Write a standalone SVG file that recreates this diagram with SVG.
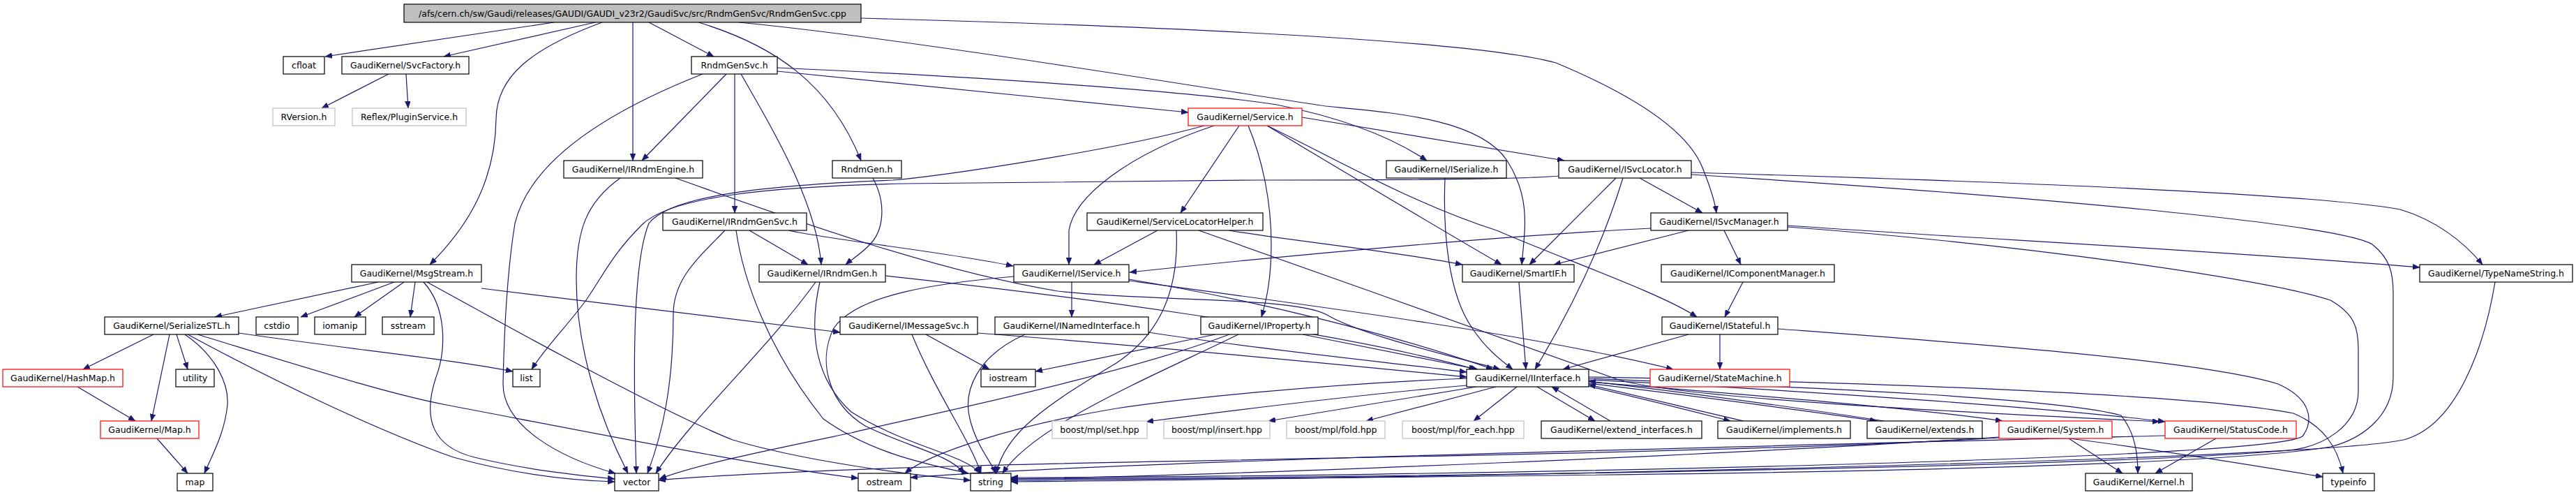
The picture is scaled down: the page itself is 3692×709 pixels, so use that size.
<svg xmlns="http://www.w3.org/2000/svg" width="3692" height="709" viewBox="0 0 3692 709">
<style>
.n rect{fill:#ffffff;stroke:#000000;stroke-width:1.2}
.r rect{stroke:#ff0000}
.g rect{stroke:#bfbfbf}
.m rect{fill:#bfbfbf}
text{font-family:"DejaVu Sans","Liberation Sans",sans-serif;font-size:12.5px;text-anchor:middle;fill:#000000}
#edges path{fill:none;stroke:#191970;stroke-width:1.2;marker-end:url(#ah)}
</style>
<defs>
<marker id="ah" markerUnits="userSpaceOnUse" markerWidth="11" markerHeight="8" refX="10" refY="4" orient="auto">
<path d="M0,0 L10,4 L0,8 z" fill="#191970" stroke="#191970" stroke-width="0.5"/>
</marker>
</defs>
<rect width="3692" height="709" fill="#ffffff"/>
<g id="edges">
<path d="M794,32 L466,81"/>
<path d="M853,32 L636,81"/>
<path d="M863,32 C760,70 712,110 711,170 C710,270 660,335 616,379"/>
<path d="M907,32 L907,230"/>
<path d="M930,32 L1023,81"/>
<path d="M1001,32 C1110,65 1190,120 1234,230"/>
<path d="M1059,32 C1300,55 1750,130 1900,152 C2000,162 2120,170 2160,230 C2195,285 2185,330 2181,379"/>
<path d="M1234,26 C1600,36 2100,55 2230,90 C2350,140 2420,190 2440,240 C2452,270 2458,290 2460,305"/>
<path d="M557,106 L461,155"/>
<path d="M582,106 L585,155"/>
<path d="M1041,106 L920,230"/>
<path d="M1053,106 L1053,305"/>
<path d="M1062,106 C1110,190 1170,290 1177,379"/>
<path d="M1007,106 C870,160 760,230 738,320 C725,400 722,500 721,550 C721,610 800,655 882,678"/>
<path d="M1114,102 L1703,161"/>
<path d="M1114,97 C1400,110 1700,130 1830,150 C1930,170 2000,200 2045,230"/>
<path d="M889,255 C840,290 826,330 826,400 C826,500 860,600 900,678"/>
<path d="M968,255 C1150,320 1350,390 1516,417 C1650,432 1850,425 1900,450 C1950,480 2080,510 2150,529"/>
<path d="M1251,255 C1270,290 1268,330 1245,352 C1232,365 1220,372 1212,379"/>
<path d="M1074,330 L1158,379"/>
<path d="M1039,330 C1000,370 965,400 965,450 C965,550 950,620 928,678"/>
<path d="M1055,330 C1065,400 1100,500 1180,600 C1250,650 1330,665 1388,678"/>
<path d="M1130,330 C1200,345 1350,360 1452,381"/>
<path d="M1726,180 C1600,215 1350,252 1280,258 C1100,265 960,280 930,320 C905,380 908,550 912,678"/>
<path d="M2234,252 C2180,257 2000,258 1800,258 L1300,263 C1100,267 960,282 920,322 C880,362 870,385 840,430 C810,470 780,500 762,529"/>
<path d="M1740,180 C1620,220 1540,280 1532,330 L1532,379"/>
<path d="M1776,180 L1692,305"/>
<path d="M1789,180 C1810,230 1822,290 1822,350 C1822,400 1815,430 1808,454"/>
<path d="M1816,180 C1950,260 2050,320 2152,379"/>
<path d="M1816,180 C1900,220 2020,290 2145,330 C2250,375 2380,420 2432,454"/>
<path d="M1866,168 L2242,230"/>
<path d="M1659,330 L1568,379"/>
<path d="M1686,330 C1690,420 1660,480 1600,520 C1500,580 1440,620 1428,678"/>
<path d="M1761,330 C1850,345 2000,360 2096,379"/>
<path d="M1718,330 C1900,395 2200,500 2317,543 C2400,570 2800,590 3095,604"/>
<path d="M2326,255 C2300,340 2260,430 2200,529"/>
<path d="M2316,255 L2192,379"/>
<path d="M2350,255 L2440,305"/>
<path d="M2424,247 C2800,258 3300,275 3440,300 C3490,315 3530,345 3558,379"/>
<path d="M2424,250 C2900,280 3350,320 3400,350 C3425,370 3430,390 3430,420 L3430,540 C3430,600 3380,630 3340,640 C3100,680 2000,683 1449,688"/>
<path d="M2471,330 L2495,379"/>
<path d="M2420,330 L2227,379"/>
<path d="M2366,327 C2200,335 1900,360 1619,390"/>
<path d="M2562,323 C2800,340 3200,360 3468,383"/>
<path d="M2562,325 C2900,350 3250,400 3340,430 C3375,450 3380,470 3380,500 L3380,560 C3380,610 3330,640 3280,645 C3000,670 2000,684 1449,686"/>
<path d="M3576,404 C3560,500 3520,610 3445,630 C3300,660 2000,686 1449,690"/>
<path d="M2498,404 L2472,454"/>
<path d="M2420,479 L2240,529"/>
<path d="M2465,479 L2465,529"/>
<path d="M2548,471 C2800,490 3150,515 3265,550 C3310,570 3318,600 3300,625 C3250,660 2000,683 1449,684"/>
<path d="M2177,404 L2187,529"/>
<path d="M1536,404 L1536,454"/>
<path d="M1453,396 C1350,405 1230,420 1195,470 C1170,520 1190,580 1240,610 C1300,640 1360,650 1382,678"/>
<path d="M1618,400 C1800,430 2000,480 2140,529"/>
<path d="M1618,402 C1900,440 2200,480 2398,529"/>
<path d="M1469,479 C1400,510 1380,560 1390,600 C1400,640 1420,660 1427,678"/>
<path d="M1646,476 C1800,500 2000,520 2102,533"/>
<path d="M1327,479 L1418,529"/>
<path d="M1307,479 C1340,560 1390,630 1406,678"/>
<path d="M1401,477 C1700,500 1950,525 2102,540"/>
<path d="M1742,479 L1484,532"/>
<path d="M1762,479 C1600,540 1300,600 1220,620 C1100,645 1000,665 945,686"/>
<path d="M1775,479 C1650,540 1480,610 1437,678"/>
<path d="M1867,479 L2118,529"/>
<path d="M542,404 L308,454"/>
<path d="M565,404 L431,454"/>
<path d="M579,404 L508,454"/>
<path d="M595,404 L588,454"/>
<path d="M607,404 C640,440 640,500 625,540 C605,600 620,640 680,655 C750,672 820,680 881,686"/>
<path d="M612,404 C750,480 950,590 1050,630 C1150,660 1300,680 1391,688"/>
<path d="M690,413 L1204,476"/>
<path d="M220,479 L119,529"/>
<path d="M243,479 L217,603"/>
<path d="M253,479 L269,529"/>
<path d="M265,479 C310,510 328,550 326,580 C322,620 305,650 293,678"/>
<path d="M269,479 C400,550 550,620 650,655 C740,680 820,688 881,690"/>
<path d="M283,479 C450,530 560,565 640,580 C850,620 1100,670 1230,685"/>
<path d="M342,477 C500,500 650,515 735,532"/>
<path d="M111,554 L194,603"/>
<path d="M225,628 L269,678"/>
<path d="M1169,404 C1100,500 990,600 940,678"/>
<path d="M1175,404 C1160,470 1165,540 1220,590 C1300,640 1380,650 1405,678"/>
<path d="M1269,395 C1500,420 1900,470 2115,529"/>
<path d="M2071,255 C2068,330 2075,420 2110,470 C2130,500 2150,515 2168,529"/>
<path d="M2102,542 C1900,550 1700,570 1600,585 C1450,610 1330,650 1297,678"/>
<path d="M2102,552 C1950,565 1750,590 1643,604"/>
<path d="M2116,554 L1818,603"/>
<path d="M2144,554 L1958,603"/>
<path d="M2174,554 L2112,603"/>
<path d="M2203,554 L2286,603"/>
<path d="M2308,603 L2224,554"/>
<path d="M2276,553 C2350,570 2430,590 2480,603"/>
<path d="M2499,603 C2420,585 2340,565 2277,551"/>
<path d="M2276,549 C2450,570 2600,590 2690,603"/>
<path d="M2700,603 C2550,580 2400,560 2277,546"/>
<path d="M2277,547 C2500,565 2750,585 2870,603"/>
<path d="M2277,544 C2600,560 2950,585 3103,604"/>
<path d="M2277,542 C2600,555 2950,570 3040,595 C3060,620 3064,650 3064,678"/>
<path d="M2277,540 C2700,548 3150,565 3287,592 C3330,610 3350,640 3358,678"/>
<path d="M2965,628 L3042,678"/>
<path d="M2966,628 C3100,645 3250,670 3329,683"/>
<path d="M2865,626 C2500,650 1800,680 1449,686"/>
<path d="M2866,627 C2500,650 1600,660 1400,667 C1200,672 1000,682 944,688"/>
<path d="M3176,628 L3089,678"/>
<path d="M3103,624 C2500,640 1600,660 1305,684"/>
</g>
<g id="main" class="n m"><rect x="579" y="6" width="655" height="26"/><text x="906.5" y="23.5">/afs/cern.ch/sw/Gaudi/releases/GAUDI/GAUDI_v23r2/GaudiSvc/src/RndmGenSvc/RndmGenSvc.cpp</text></g>
<g id="cfloat" class="n"><rect x="406" y="81" width="59" height="25"/><text x="435.5" y="98">cfloat</text></g>
<g id="SvcFactory" class="n"><rect x="490" y="81" width="182" height="25"/><text x="581" y="98">GaudiKernel/SvcFactory.h</text></g>
<g id="RndmGenSvc_h" class="n"><rect x="991" y="81" width="123" height="25"/><text x="1052.5" y="98">RndmGenSvc.h</text></g>
<g id="RVersion" class="n g"><rect x="391" y="155" width="89" height="25"/><text x="435.5" y="172">RVersion.h</text></g>
<g id="ReflexPluginService" class="n g"><rect x="505" y="155" width="163" height="25"/><text x="586.5" y="172">Reflex/PluginService.h</text></g>
<g id="Service_h" class="n r"><rect x="1703" y="155" width="163" height="25"/><text x="1784.5" y="172">GaudiKernel/Service.h</text></g>
<g id="IRndmEngine" class="n"><rect x="808" y="230" width="199" height="25"/><text x="907.5" y="247">GaudiKernel/IRndmEngine.h</text></g>
<g id="RndmGen_h" class="n"><rect x="1193" y="230" width="99" height="25"/><text x="1242.5" y="247">RndmGen.h</text></g>
<g id="ISerialize" class="n"><rect x="1987" y="230" width="172" height="25"/><text x="2073" y="247">GaudiKernel/ISerialize.h</text></g>
<g id="ISvcLocator" class="n"><rect x="2234" y="230" width="190" height="25"/><text x="2329" y="247">GaudiKernel/ISvcLocator.h</text></g>
<g id="IRndmGenSvc" class="n"><rect x="950" y="305" width="206" height="25"/><text x="1053" y="322">GaudiKernel/IRndmGenSvc.h</text></g>
<g id="ServiceLocatorHelper" class="n"><rect x="1558" y="305" width="252" height="25"/><text x="1684" y="322">GaudiKernel/ServiceLocatorHelper.h</text></g>
<g id="ISvcManager" class="n"><rect x="2366" y="305" width="196" height="25"/><text x="2464" y="322">GaudiKernel/ISvcManager.h</text></g>
<g id="MsgStream" class="n"><rect x="504" y="379" width="186" height="25"/><text x="597" y="396">GaudiKernel/MsgStream.h</text></g>
<g id="IRndmGen" class="n"><rect x="1088" y="379" width="181" height="25"/><text x="1178.5" y="396">GaudiKernel/IRndmGen.h</text></g>
<g id="IService" class="n"><rect x="1453" y="379" width="165" height="25"/><text x="1535.5" y="396">GaudiKernel/IService.h</text></g>
<g id="SmartIF" class="n"><rect x="2096" y="379" width="160" height="25"/><text x="2176" y="396">GaudiKernel/SmartIF.h</text></g>
<g id="IComponentManager" class="n"><rect x="2381" y="379" width="248" height="25"/><text x="2505" y="396">GaudiKernel/IComponentManager.h</text></g>
<g id="TypeNameString" class="n"><rect x="3468" y="379" width="219" height="25"/><text x="3577.5" y="396">GaudiKernel/TypeNameString.h</text></g>
<g id="SerializeSTL" class="n"><rect x="150" y="454" width="192" height="25"/><text x="246" y="471">GaudiKernel/SerializeSTL.h</text></g>
<g id="cstdio" class="n"><rect x="367" y="454" width="60" height="25"/><text x="397" y="471">cstdio</text></g>
<g id="iomanip" class="n"><rect x="451" y="454" width="73" height="25"/><text x="487.5" y="471">iomanip</text></g>
<g id="sstream" class="n"><rect x="548" y="454" width="74" height="25"/><text x="585" y="471">sstream</text></g>
<g id="IMessageSvc" class="n"><rect x="1204" y="454" width="197" height="25"/><text x="1302.5" y="471">GaudiKernel/IMessageSvc.h</text></g>
<g id="INamedInterface" class="n"><rect x="1426" y="454" width="220" height="25"/><text x="1536" y="471">GaudiKernel/INamedInterface.h</text></g>
<g id="IProperty" class="n"><rect x="1721" y="454" width="168" height="25"/><text x="1805" y="471">GaudiKernel/IProperty.h</text></g>
<g id="IStateful" class="n"><rect x="2382" y="454" width="166" height="25"/><text x="2465" y="471">GaudiKernel/IStateful.h</text></g>
<g id="HashMap" class="n r"><rect x="4" y="529" width="172" height="25"/><text x="90" y="546">GaudiKernel/HashMap.h</text></g>
<g id="utility" class="n"><rect x="252" y="529" width="55" height="25"/><text x="279.5" y="546">utility</text></g>
<g id="list" class="n"><rect x="735" y="529" width="39" height="25"/><text x="754.5" y="546">list</text></g>
<g id="iostream" class="n"><rect x="1406" y="529" width="78" height="25"/><text x="1445" y="546">iostream</text></g>
<g id="IInterface" class="n"><rect x="2102" y="529" width="175" height="25"/><text x="2189.5" y="546">GaudiKernel/IInterface.h</text></g>
<g id="StateMachine" class="n r"><rect x="2365" y="529" width="200" height="25"/><text x="2465" y="546">GaudiKernel/StateMachine.h</text></g>
<g id="Map" class="n r"><rect x="144" y="603" width="141" height="25"/><text x="214.5" y="620">GaudiKernel/Map.h</text></g>
<g id="mpl_set" class="n g"><rect x="1508" y="603" width="136" height="25"/><text x="1576" y="620">boost/mpl/set.hpp</text></g>
<g id="mpl_insert" class="n g"><rect x="1668" y="603" width="152" height="25"/><text x="1744" y="620">boost/mpl/insert.hpp</text></g>
<g id="mpl_fold" class="n g"><rect x="1844" y="603" width="141" height="25"/><text x="1914.5" y="620">boost/mpl/fold.hpp</text></g>
<g id="mpl_for_each" class="n g"><rect x="2010" y="603" width="174" height="25"/><text x="2097" y="620">boost/mpl/for_each.hpp</text></g>
<g id="extend_interfaces" class="n"><rect x="2209" y="603" width="230" height="25"/><text x="2324" y="620">GaudiKernel/extend_interfaces.h</text></g>
<g id="implements" class="n"><rect x="2462" y="603" width="190" height="25"/><text x="2557" y="620">GaudiKernel/implements.h</text></g>
<g id="extends" class="n"><rect x="2676" y="603" width="165" height="25"/><text x="2758.5" y="620">GaudiKernel/extends.h</text></g>
<g id="System" class="n r"><rect x="2865" y="603" width="162" height="25"/><text x="2946" y="620">GaudiKernel/System.h</text></g>
<g id="StatusCode" class="n r"><rect x="3103" y="603" width="188" height="25"/><text x="3197" y="620">GaudiKernel/StatusCode.h</text></g>
<g id="map" class="n"><rect x="254" y="678" width="51" height="25"/><text x="279.5" y="695">map</text></g>
<g id="vector" class="n"><rect x="881" y="678" width="63" height="25"/><text x="912.5" y="695">vector</text></g>
<g id="ostream" class="n"><rect x="1230" y="678" width="75" height="25"/><text x="1267.5" y="695">ostream</text></g>
<g id="string" class="n"><rect x="1391" y="678" width="58" height="25"/><text x="1420" y="695">string</text></g>
<g id="Kernel" class="n"><rect x="2989" y="678" width="153" height="25"/><text x="3065.5" y="695">GaudiKernel/Kernel.h</text></g>
<g id="typeinfo" class="n"><rect x="3329" y="678" width="74" height="25"/><text x="3366" y="695">typeinfo</text></g>
</svg>
